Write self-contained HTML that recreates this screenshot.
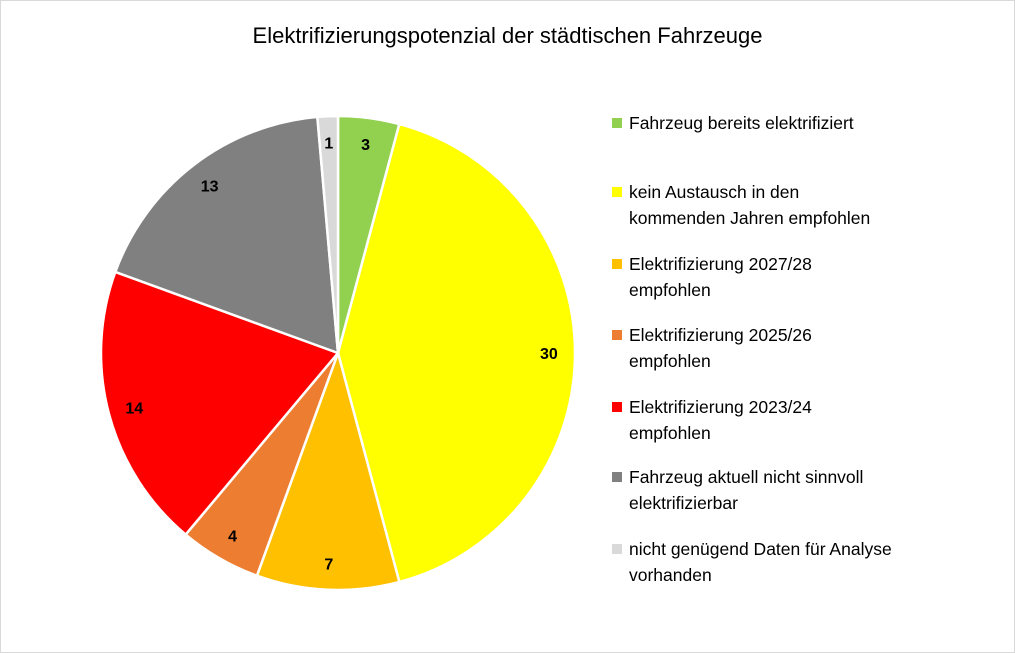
<!DOCTYPE html>
<html><head><meta charset="utf-8"><style>
body{margin:0;background:#fff;}
#c{position:relative;width:1013px;height:651px;border:1px solid #d9d9d9;font-family:"Liberation Sans",sans-serif;}
.t{position:absolute;left:0;width:1013px;top:22px;text-align:center;font-size:22px;color:#000;}
.lg{position:absolute;left:611px;font-size:17.5px;line-height:26px;color:#000;}
.sw{position:absolute;left:0;top:8px;width:10px;height:10px;}
.lg span{display:block;padding-left:17px;}
</style></head><body>
<div id="c">
<div class="t">Elektrifizierungspotenzial der städtischen Fahrzeuge</div>
<svg id="pie" width="1013" height="651" style="position:absolute;left:0;top:0"></svg>
<div id="legend"></div>
</div>
<script>
const categories=["Fahrzeug bereits elektrifiziert","kein Austausch in den kommenden Jahren empfohlen","Elektrifizierung 2027/28 empfohlen","Elektrifizierung 2025/26 empfohlen","Elektrifizierung 2023/24 empfohlen","Fahrzeug aktuell nicht sinnvoll elektrifizierbar","nicht genügend Daten für Analyse vorhanden"];
const values=[3,30,7,4,14,13,1];
const legendLines=[["Fahrzeug bereits elektrifiziert"],["kein Austausch in den","kommenden Jahren empfohlen"],["Elektrifizierung 2027/28","empfohlen"],["Elektrifizierung 2025/26","empfohlen"],["Elektrifizierung 2023/24","empfohlen"],["Fahrzeug aktuell nicht sinnvoll","elektrifizierbar"],["nicht genügend Daten für Analyse","vorhanden"]];
const colors=["#92d050","#ffff00","#ffc000","#ed7d31","#ff0000","#808080","#d9d9d9"];
const cx=337,cy=352,R=237;
const svg=document.getElementById('pie');const NS="http://www.w3.org/2000/svg";
const total=values.reduce((a,b)=>a+b,0);
let a0=0;
function pt(a,r){return [cx+r*Math.sin(a),cy-r*Math.cos(a)];}
values.forEach((v,i)=>{
 const a1=a0+v/total*2*Math.PI;
 const p0=pt(a0,R),p1=pt(a1,R);
 const path=document.createElementNS(NS,'path');
 path.setAttribute('d',`M${cx},${cy}L${p0[0]},${p0[1]}A${R},${R} 0 ${a1-a0>Math.PI?1:0} 1 ${p1[0]},${p1[1]}Z`);
 path.setAttribute('fill',colors[i]);path.setAttribute('stroke','#fff');path.setAttribute('stroke-width','2.5');
 
 
 svg.appendChild(path);
 const lp=pt((a0+a1)/2,R*0.89);
 const tx=document.createElementNS(NS,'text');
 tx.setAttribute('x',lp[0]);tx.setAttribute('y',lp[1]+6);tx.setAttribute('text-anchor','middle');
 tx.setAttribute('font-size','16');tx.setAttribute('font-weight','bold');tx.setAttribute('font-family','Liberation Sans, sans-serif');
 tx.textContent=v;
 
 
 svg.appendChild(tx);
 a0=a1;
});
const tops=[109,178,250,321,393,463,535];
const lg=document.getElementById('legend');
categories.forEach((c,i)=>{
 const d=document.createElement('div');d.className='lg';d.style.top=tops[i]+'px';
 
 
 d.innerHTML='<div class="sw" style="background:'+colors[i]+'"></div>'+legendLines[i].map(l=>'<span>'+l+'</span>').join('');
 lg.appendChild(d);
});
</script>
</body></html>
